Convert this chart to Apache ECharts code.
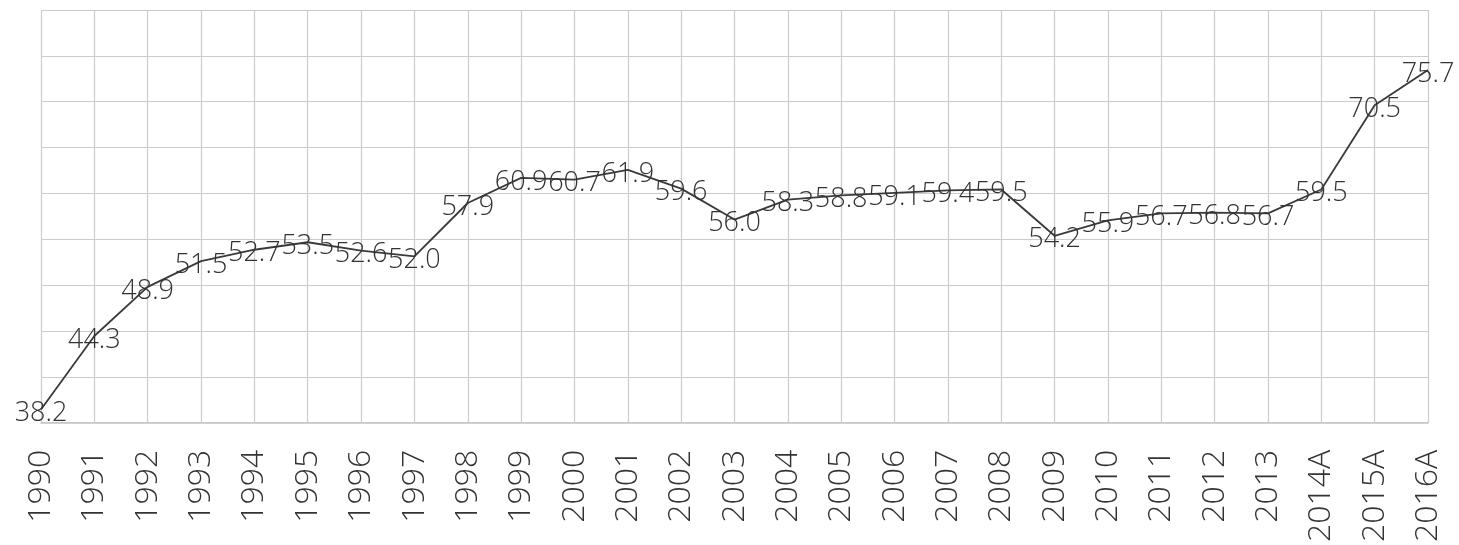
<!DOCTYPE html>
<html>
<head>
<meta charset="utf-8">
<script src="https://cdn.jsdelivr.net/npm/echarts@6/dist/echarts.min.js"></script>
<style>
  html, body { margin: 0; padding: 0; background: #ffffff; }
  #chart { width: 1459px; height: 545px; }
</style>
</head>
<body>
<div id="chart"></div>
<script>
const categories = ['1990','1991','1992','1993','1994','1995','1996','1997','1998','1999',
  '2000','2001','2002','2003','2004','2005','2006','2007','2008','2009',
  '2010','2011','2012','2013','2014A','2015A','2016A'];
const values = [38.2, 44.3, 48.9, 51.5, 52.7, 53.5, 52.6, 52.0, 57.9, 60.9,
  60.7, 61.9, 59.6, 56.0, 58.3, 58.8, 59.1, 59.4, 59.5, 54.2,
  55.9, 56.7, 56.8, 56.7, 59.5, 70.5, 75.7];
const gridRows = 9;

const FONT = "'Open Sans', 'DejaVu Sans', sans-serif";
const chart = echarts.init(document.getElementById('chart'), null, { renderer: 'canvas' });
chart.setOption({
  animation: false,
  backgroundColor: '#ffffff',
  grid: { left: 41, right: 31, top: 10, bottom: 122, containLabel: false },
  xAxis: {
    type: 'category',
    data: categories,
    boundaryGap: false,
    axisLine: { show: true, lineStyle: { color: '#c4c4c4', width: 1.5 } },
    axisTick: { show: false },
    axisLabel: {
      rotate: 90,
      interval: 0,
      margin: 27,
      color: '#333333',
      fontFamily: FONT,
      fontWeight: 300,
      fontSize: 32
    },
    splitLine: { show: true, interval: 0, lineStyle: { color: '#cccccc', width: 1.2 } }
  },
  yAxis: [
    {
      type: 'log',
      logBase: 10,
      min: 37.2,
      max: 85.4,
      show: false
    },
    {
      type: 'value',
      min: 0,
      max: gridRows,
      interval: 1,
      axisLine: { show: false },
      axisTick: { show: false },
      axisLabel: { show: false },
      splitLine: { show: true, lineStyle: { color: '#cccccc', width: 1.2 } }
    }
  ],
  series: [{
    type: 'line',
    yAxisIndex: 0,
    data: values,
    smooth: false,
    symbol: 'circle',
    symbolSize: 1,
    showSymbol: true,
    itemStyle: { color: 'rgba(0,0,0,0)' },
    lineStyle: { color: '#3a3a3a', width: 1.8 },
    label: {
      show: true,
      position: 'inside',
      offset: [0, 4],
      color: '#333333',
      fontFamily: FONT,
      fontWeight: 300,
      fontSize: 27,
      formatter: p => Number(p.value).toFixed(1)
    },
    emphasis: { disabled: true }
  }]
});
</script>
</body>
</html>
